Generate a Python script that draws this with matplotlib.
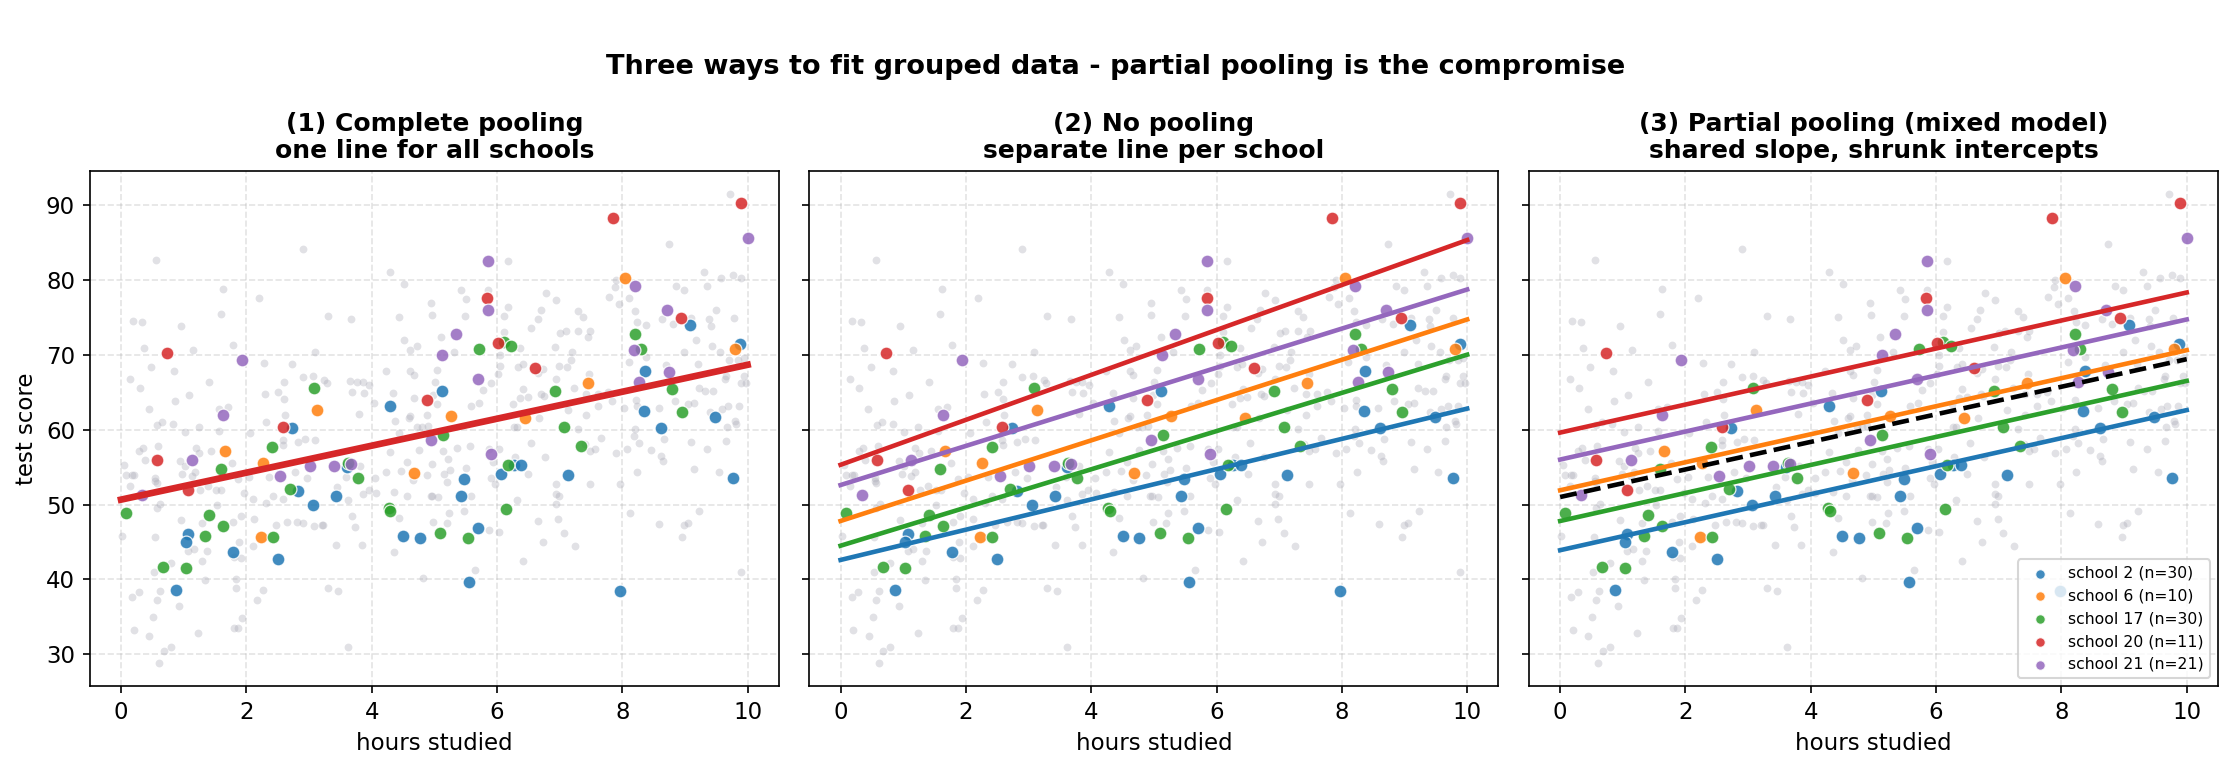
import numpy as np
import matplotlib.pyplot as plt

# background: every student, all schools (grey)
grey_x = [2.90, 0.56, 1.62, 2.20, 1.59, 0.19, 0.33, 0.95, 0.37, 1.15, 1.78, 3.09, 0.48, 0.84, 2.28,
          2.73, 0.15, 0.30, 1.41, 2.90, 3.07, 3.24, 3.28, 2.60, 2.51, 2.29, 2.60, 1.09, 0.86, 0.44,
          1.56, 1.70, 2.61, 0.66, 0.58, 0.83, 1.24, 2.32,
          3.30, 3.67, 4.29, 4.51, 4.44, 4.95, 4.96, 5.43, 5.51, 5.85, 6.17, 6.17, 6.11, 5.49, 5.11,
          5.31, 4.52, 4.62, 4.72, 6.11, 6.05, 6.05, 6.02, 5.91, 6.37, 6.41, 6.33, 6.66, 6.73, 6.55,
          6.65, 6.70, 6.78, 3.66, 3.76, 3.86, 3.96, 3.69, 3.87, 4.23, 4.62, 4.67, 5.05, 5.01, 4.34,
          4.67, 4.98, 5.05, 4.03, 3.80, 4.37, 4.59, 4.62, 4.89, 5.77, 5.59, 5.71, 6.25, 6.37, 6.49,
          6.42, 6.67, 6.71, 6.75, 4.73, 4.81, 4.90, 6.27, 6.32,
          9.72, 8.74, 9.31, 9.77, 9.58, 9.89, 7.90, 7.88, 8.86, 8.99, 9.36, 7.79, 7.94, 8.11, 6.94,
          7.30, 7.38, 8.20, 8.23, 8.38, 8.64, 8.81, 9.10, 9.39, 9.50, 9.41, 9.78, 7.01, 7.10, 7.30,
          7.49, 7.45, 6.92, 7.19, 7.18, 7.11, 6.99, 6.94, 7.47, 7.23, 7.42, 7.61, 7.77, 7.83, 7.61,
          8.03, 8.22, 8.23, 8.10, 8.38, 8.70, 8.99, 9.18, 9.43, 9.56, 9.21, 9.71, 9.85, 9.94, 9.66,
          9.64, 9.89, 9.97, 9.94, 9.22, 9.32, 9.45, 8.58, 8.84, 9.05, 9.15, 9.40, 9.59, 9.69, 9.86,
          9.80, 9.82, 7.42, 7.13, 7.30, 8.21,
          1.02, 1.56, 2.06, 0.29, 0.35, 0.59, 0.39, 0.05, 0.08, 0.18, 0.21, 0.15, 0.55, 0.55, 0.57,
          0.94, 1.02, 1.19, 1.25, 1.44, 0.98, 1.13, 1.18, 1.26, 1.39, 1.52, 1.60, 1.77, 1.87, 1.97,
          2.04, 2.11, 2.31, 2.42, 2.36, 2.58, 2.58, 2.59, 2.82, 2.94, 3.10, 2.78, 2.97, 0.63, 0.57,
          1.53, 0.95, 1.30, 0.02, 0.54, 1.79, 1.91, 2.12, 1.89, 1.07, 1.16, 1.37, 1.30, 0.79, 0.53,
          1.80, 1.91, 2.47, 2.65, 2.81, 2.90, 3.08, 3.21, 2.11, 1.84, 1.84, 1.34, 2.27, 2.17, 0.28,
          0.18, 0.62, 0.57, 0.93, 0.51, 1.93, 0.20, 0.45, 1.23, 1.80, 1.87, 0.79, 0.68, 0.61,
          4.44, 4.29, 4.76, 5.14, 5.37, 5.57, 5.22, 4.97, 4.57, 4.47, 4.23, 4.06, 3.81, 3.59, 3.44,
          3.86, 3.95, 4.07, 3.62, 4.36, 4.57, 4.88, 4.66, 5.16, 5.21, 5.25, 5.51, 4.94, 4.97, 5.06,
          5.58, 5.87, 6.03, 5.94, 5.90, 5.97, 6.29, 6.54, 6.76, 6.50, 6.32, 3.23, 3.69, 3.74, 3.43,
          3.85, 4.44, 4.35, 4.98, 5.20, 5.23, 5.48, 5.87, 6.04, 6.66, 6.73, 6.42, 5.65, 4.82, 3.30,
          3.46, 3.62,
          9.67, 7.40, 7.48, 7.57, 7.66, 7.90, 8.07, 8.19, 8.27, 8.46, 8.67, 8.62, 8.65, 9.10, 9.36,
          9.65, 8.24, 9.15, 9.54, 6.94, 6.94, 6.99, 6.94, 7.48, 7.97, 6.98, 7.07, 7.25, 8.13, 8.59,
          8.99, 9.05, 8.96, 9.23, 9.89]
grey_y = [84.1, 82.6, 78.7, 77.6, 75.4, 74.5, 74.4, 73.8, 70.9, 70.6, 71.3, 70.3, 68.4, 67.8, 68.9,
          68.7, 66.8, 65.5, 66.3, 67.0, 67.1, 66.6, 66.2, 66.4, 65.0, 64.7, 64.1, 64.6, 63.8, 62.8,
          62.8, 63.0, 62.0, 61.0, 60.6, 60.7, 60.4, 61.0,
          75.1, 74.7, 81.0, 79.4, 75.0, 76.9, 75.3, 78.6, 77.4, 78.6, 82.5, 76.4, 75.1, 75.2, 72.4,
          70.3, 71.9, 70.6, 71.1, 73.0, 69.9, 68.5, 67.4, 66.2, 70.9, 68.7, 68.4, 67.6, 68.1, 73.5,
          74.7, 75.9, 78.2, 66.5, 66.4, 66.4, 65.9, 65.0, 64.9, 67.8, 67.8, 67.3, 68.0, 66.3, 64.9,
          64.2, 64.6, 63.4, 63.5, 62.1, 61.2, 61.6, 61.8, 62.0, 65.3, 63.2, 63.6, 63.4, 64.2, 64.4,
          65.4, 61.6, 64.7, 64.5, 60.3, 60.4, 60.5, 60.3, 60.4,
          91.4, 84.8, 81.0, 80.7, 80.2, 80.2, 80.0, 79.0, 79.2, 78.6, 79.1, 77.7, 76.8, 77.5, 77.3,
          75.8, 75.0, 75.8, 74.4, 73.9, 74.7, 74.1, 74.9, 74.8, 75.9, 73.8, 74.9, 72.9, 73.2, 73.2,
          73.2, 72.3, 71.0, 70.3, 69.3, 68.4, 68.5, 66.8, 67.4, 65.5, 64.8, 64.8, 65.0, 63.8, 63.2,
          62.9, 63.9, 63.2, 69.0, 69.7, 68.6, 70.4, 72.0, 71.2, 70.3, 68.8, 69.3, 69.3, 69.5, 67.2,
          66.7, 66.2, 66.2, 67.2, 65.5, 65.1, 65.1, 62.9, 63.8, 63.4, 63.6, 62.4, 62.7, 63.1, 63.2,
          61.2, 60.7, 62.0, 62.6, 60.1, 60.1,
          59.7, 59.8, 59.6, 57.1, 57.5, 57.8, 55.9, 55.3, 54.0, 54.0, 54.0, 52.5, 53.6, 53.1, 52.9,
          55.8, 55.1, 57.6, 56.9, 57.1, 54.1, 53.8, 54.3, 51.9, 52.5, 52.0, 51.9, 55.5, 53.4, 51.6,
          53.7, 50.7, 50.2, 51.2, 53.7, 50.8, 58.6, 58.0, 58.4, 58.7, 58.6, 54.4, 53.6, 50.1, 49.6,
          49.9, 47.9, 47.5, 45.8, 45.7, 47.7, 48.4, 48.1, 45.0, 43.8, 44.1, 43.8, 42.4, 42.2, 41.0,
          43.0, 42.9, 47.2, 47.7, 47.6, 47.5, 47.1, 47.3, 44.5, 40.0, 38.9, 39.9, 38.6, 37.3, 38.3,
          37.6, 38.4, 37.3, 36.4, 35.0, 34.9, 33.2, 32.4, 32.9, 33.5, 33.5, 31.0, 30.4, 28.9,
          59.6, 57.0, 57.3, 57.1, 57.6, 57.8, 56.1, 55.4, 55.7, 54.5, 54.3, 53.6, 55.1, 53.7, 52.4,
          51.4, 52.0, 51.6, 50.6, 51.7, 51.2, 54.0, 53.3, 54.1, 53.0, 54.6, 54.9, 51.2, 51.2, 51.0,
          51.1, 57.4, 57.4, 55.7, 53.5, 52.7, 56.4, 58.2, 56.4, 54.1, 50.6, 47.3, 48.4, 47.0, 44.6,
          44.6, 48.2, 43.6, 47.6, 47.5, 48.8, 49.2, 46.6, 46.3, 47.8, 45.0, 42.5, 41.3, 40.2, 38.9,
          38.4, 31.0,
          60.3, 58.1, 57.1, 57.4, 58.9, 56.9, 57.4, 59.2, 58.2, 57.3, 58.7, 56.5, 55.8, 58.4, 57.4,
          58.5, 54.4, 54.8, 54.4, 52.7, 51.4, 51.1, 50.1, 52.7, 52.7, 48.0, 46.2, 44.4, 48.8, 47.4,
          47.3, 47.5, 45.7, 49.2, 41.0]

# highlighted schools
schools = ["school 2 (n=30)", "school 6 (n=10)", "school 17 (n=30)", "school 20 (n=11)", "school 21 (n=21)"]
colors = ["C0", "C1", "C2", "C3", "C4"]

s2_x = [2.73, 5.12, 4.29, 9.08, 9.88, 8.37, 8.35, 9.48, 8.61, 2.82, 3.06, 1.07, 1.03, 1.78, 2.50,
        0.87, 3.61, 3.43, 5.48, 5.43, 6.27, 6.39, 6.06, 4.50, 4.77, 5.70, 5.56, 7.13, 9.77, 7.97]
s2_y = [60.2, 65.1, 63.2, 74.0, 71.4, 67.8, 62.5, 61.7, 60.2, 51.8, 50.0, 46.1, 45.0, 43.7, 42.7,
        38.6, 55.0, 51.2, 53.4, 51.1, 55.3, 55.3, 54.1, 45.8, 45.5, 46.8, 39.7, 53.9, 53.5, 38.4]
s6_x = [3.13, 5.27, 6.45, 8.05, 9.80, 7.45, 1.66, 2.26, 2.23, 4.68]
s6_y = [62.6, 61.8, 61.5, 80.2, 70.7, 66.2, 57.1, 55.5, 45.7, 54.2]
s17_x = [3.08, 6.11, 6.23, 5.72, 6.92, 8.21, 8.30, 8.80, 8.96, 7.07, 2.41, 1.59, 2.70, 0.08, 1.41,
         1.63, 1.34, 2.42, 0.67, 1.03, 5.14, 3.63, 3.78, 6.18, 4.27, 4.30, 6.15, 5.09, 5.54, 7.34]
s17_y = [65.5, 71.7, 71.2, 70.7, 65.2, 72.8, 70.7, 65.4, 62.4, 60.4, 57.7, 54.7, 52.1, 48.8, 48.6,
         47.1, 45.8, 45.6, 41.6, 41.5, 59.3, 55.5, 53.6, 55.3, 49.6, 49.2, 49.4, 46.2, 45.5, 57.8]
s20_x = [0.73, 2.58, 5.84, 6.02, 6.60, 4.89, 7.85, 9.89, 8.94, 0.58, 1.07]
s20_y = [70.2, 60.4, 77.6, 71.5, 68.2, 63.9, 88.2, 90.2, 74.9, 55.9, 52.0]
s21_x = [1.93, 1.63, 5.85, 5.85, 5.34, 5.13, 5.70, 10.0, 8.21, 8.71, 8.18, 8.74, 8.26, 1.13, 3.01,
         2.54, 0.34, 4.95, 5.90, 3.40, 3.67]
s21_y = [69.3, 62.0, 82.5, 75.9, 72.8, 70.0, 66.7, 85.6, 79.1, 76.0, 70.6, 67.7, 66.3, 55.9, 55.1,
         53.8, 51.3, 58.6, 56.7, 55.1, 55.4]
school_x = [s2_x, s6_x, s17_x, s20_x, s21_x]
school_y = [s2_y, s6_y, s17_y, s20_y, s21_y]

# fitted lines (intercept, slope)
pooled = (50.65, 1.80)
nopool_icpt = [42.6, 47.8, 44.5, 55.3, 52.6]
nopool_slope = [2.02, 2.69, 2.55, 3.00, 2.61]
partial_icpt = [43.9, 51.9, 47.8, 59.6, 56.0]
partial_slope = 1.87
fixed = (51.0, 1.84)

xx = np.linspace(0, 10, 50)

fig, axes = plt.subplots(1, 3, figsize=(2231 / 150, 770 / 150), dpi=150, sharey=True)
fig.subplots_adjust(left=0.0402, right=0.9942, bottom=0.1091, top=0.778, wspace=0.044)

titles = ["(1) Complete pooling\none line for all schools",
          "(2) No pooling\nseparate line per school",
          "(3) Partial pooling (mixed model)\nshared slope, shrunk intercepts"]

for i, ax in enumerate(axes):
    ax.scatter(grey_x, grey_y, s=14, color="#a9a9b6", alpha=0.35, linewidths=0, zorder=1)
    for k in range(len(schools)):
        ax.scatter(school_x[k], school_y[k], s=38, color=colors[k], alpha=0.85,
                   edgecolors="white", linewidths=0.6, label=schools[k], zorder=2)
    ax.set_title(titles[i], fontsize=12, fontweight="bold")
    ax.set_xlabel("hours studied", fontsize=11)
    ax.grid(True, linestyle="--", alpha=0.35)
    ax.set_xticks([0, 2, 4, 6, 8, 10])
    ax.tick_params(labelsize=11)
    ax.set_axisbelow(True)

axes[0].plot(xx, pooled[0] + pooled[1] * xx, color="C3", lw=3.2, zorder=3)
axes[0].set_ylabel("test score", fontsize=11)

for k in range(len(schools)):
    axes[1].plot(xx, nopool_icpt[k] + nopool_slope[k] * xx, color=colors[k], lw=2.2, zorder=3)
    axes[2].plot(xx, partial_icpt[k] + partial_slope * xx, color=colors[k], lw=2.2, zorder=3)
axes[2].plot(xx, fixed[0] + fixed[1] * xx, color="black", lw=2.2, ls="--", zorder=4)
axes[2].legend(loc="lower right", fontsize=7.5, markerscale=0.75)

axes[0].set_yticks([30, 40, 50, 60, 70, 80, 90])

fig.suptitle("Three ways to fit grouped data - partial pooling is the compromise",
             fontsize=13, fontweight="bold", y=0.93)

plt.savefig("out.png", dpi=150)
